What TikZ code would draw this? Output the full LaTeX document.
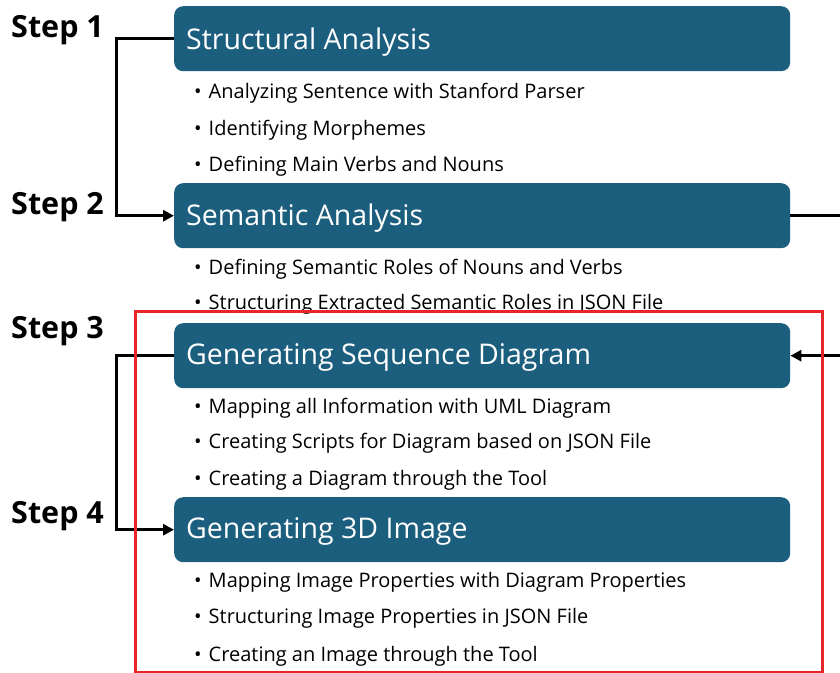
\documentclass[tikz,border=0pt]{standalone}
\usepackage{fontspec}
\setmainfont{Open Sans}
\usetikzlibrary{arrows.meta}
\definecolor{stageblue}{HTML}{1B5E7E}
\definecolor{framered}{HTML}{E8262A}
\begin{document}
\begin{tikzpicture}[x=1pt,y=-1pt,
  stagebox/.style={fill=stageblue, draw=none, rounded corners=9pt, minimum width=616pt,
    minimum height=65pt, inner sep=0pt, anchor=north west},
  stagetitle/.style={text=white, font=\fontsize{28.5}{30}\selectfont, anchor=west, inner sep=0pt},
  item/.style={font=\fontsize{20}{22}\selectfont, anchor=west, inner sep=0pt},
  steplabel/.style={font=\bfseries\fontsize{30.5}{32}\selectfont, anchor=west, inner sep=0pt},
  link/.style={line width=3pt},
  tip/.style={-{Triangle[length=11pt,width=11pt]}},
]
\useasboundingbox (0,0) rectangle (840,672);
\clip (0,0) rectangle (840,672);

% stage boxes
\node[stagebox] (s1) at (174,6) {};
\node[stagebox] (s2) at (174,183) {};
\node[stagebox] (s3) at (174,323) {};
\node[stagebox] (s4) at (174,497) {};

% stage titles
\node[stagetitle] (t1) at (186,42) {Structural Analysis};
\node[stagetitle] (t2) at (186,218) {Semantic Analysis};
\node[stagetitle] (t3) at (186,357) {Generating Sequence Diagram};
\node[stagetitle] (t4) at (186,531) {Generating 3D Image};

% step labels
\node[steplabel] (l1) at (11,30) {Step 1};
\node[steplabel] (l2) at (11,207) {Step 2};
\node[steplabel] (l3) at (11,331) {Step 3};
\node[steplabel] (l4) at (11,516) {Step 4};

% bullet lists
\node[item] (b11) at (194,93) {•\hspace{7pt}Analyzing Sentence with Stanford Parser};
\node[item] (b12) at (194,130) {•\hspace{7pt}Identifying Morphemes};
\node[item] (b13) at (194,166) {•\hspace{7pt}Defining Main Verbs and Nouns};
\node[item] (b21) at (194,269) {•\hspace{7pt}Defining Semantic Roles of Nouns and Verbs};
\node[item] (b22) at (194,304) {•\hspace{7pt}Structuring Extracted Semantic Roles in JSON File};
\node[item] (b31) at (194,408) {•\hspace{7pt}Mapping all Information with UML Diagram};
\node[item] (b32) at (194,443) {•\hspace{7pt}Creating Scripts for Diagram based on JSON File};
\node[item] (b33) at (194,480) {•\hspace{7pt}Creating a Diagram through the Tool};
\node[item] (b41) at (194,582) {•\hspace{7pt}Mapping Image Properties with Diagram Properties};
\node[item] (b42) at (194,618) {•\hspace{7pt}Structuring Image Properties in JSON File};
\node[item] (b43) at (194,656) {•\hspace{7pt}Creating an Image through the Tool};

% connectors
\draw[link, tip] (s1.west) -- ++(-58,0) |- (s2.west);
\draw[link, tip] (s3.west) -- ++(-58,0) |- (s4.west);
\draw[link, tip] (s2.east) -- ++(70,0) |- (s3.east);

% highlight frame
\draw[framered, line width=3pt] (135,311) rectangle (822,672.5);
\end{tikzpicture}
\end{document}
